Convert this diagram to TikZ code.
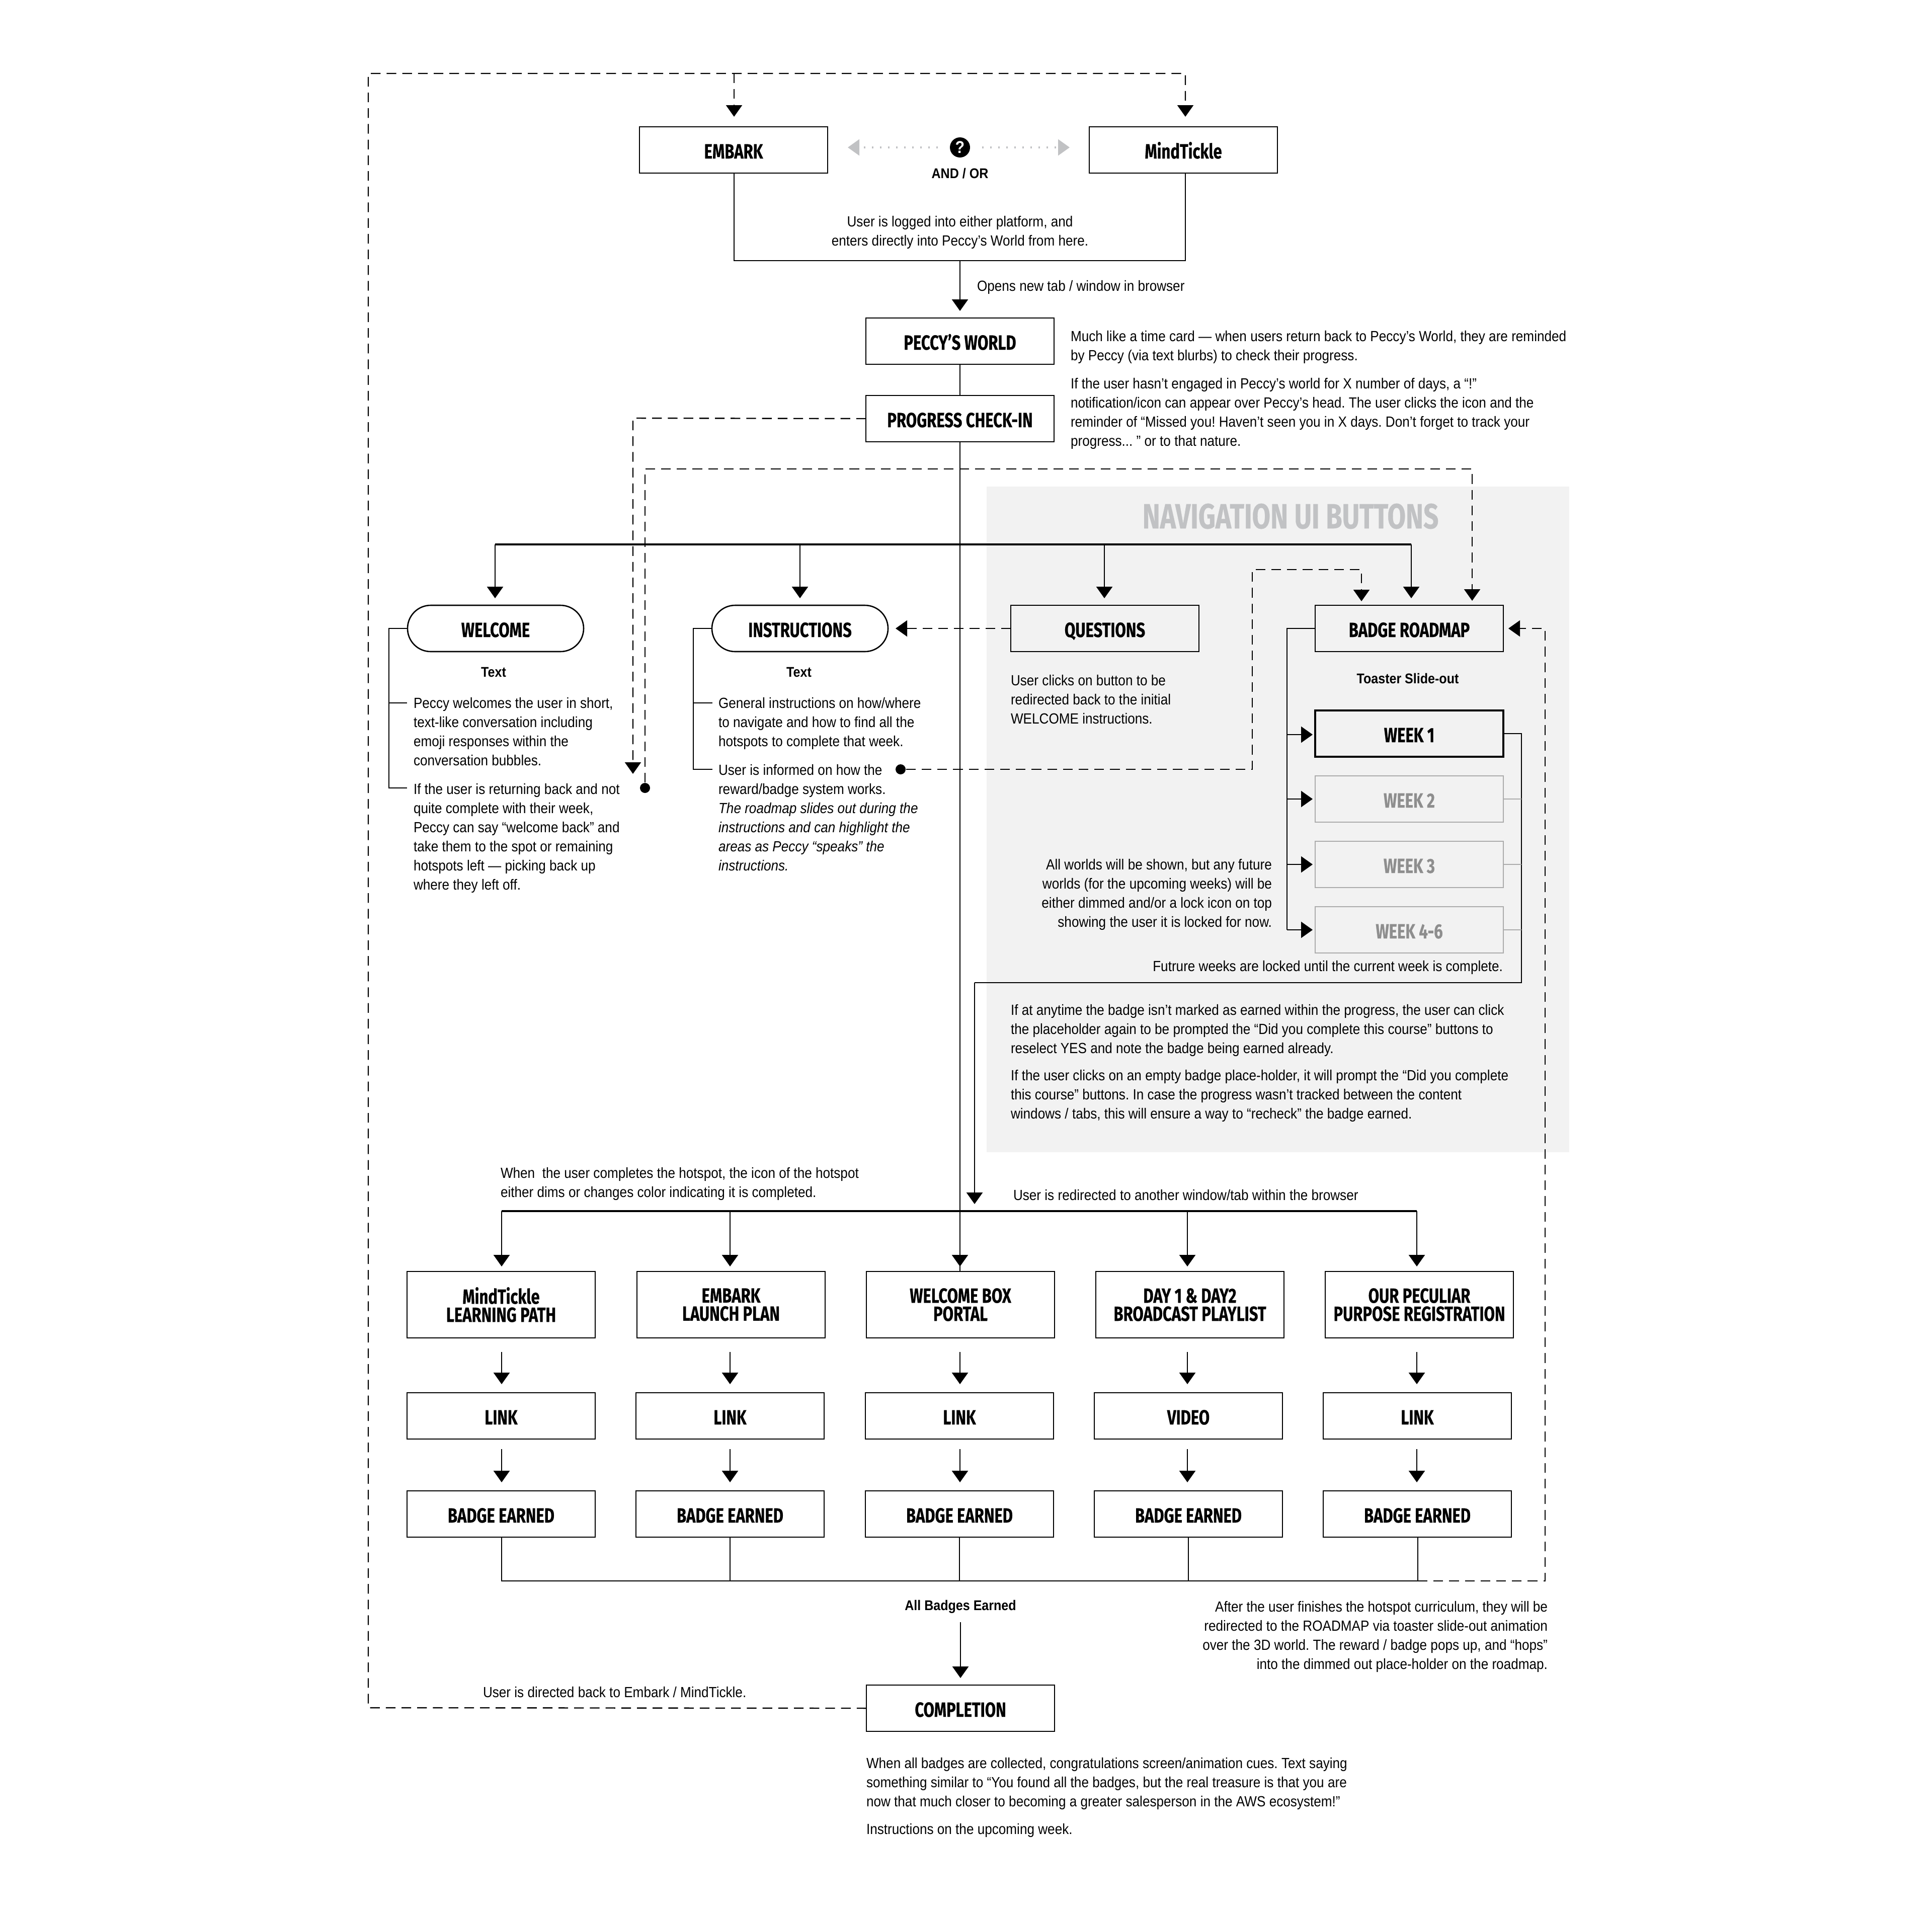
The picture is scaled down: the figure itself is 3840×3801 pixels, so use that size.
\documentclass[tikz,border=0pt]{standalone}
\usepackage{fontspec}
\usepackage{tikz}
\usepackage{xcolor}
\usetikzlibrary{arrows.meta,shapes.misc}
\newfontfamily\bodyfont[FakeStretch=0.895]{Liberation Sans}
\newfontfamily\headfont[FakeStretch=0.76,BoldFeatures={FakeBold=0.4}]{Fira Sans}
\definecolor{panelgrey}{HTML}{F2F2F2}
\definecolor{titlegrey}{HTML}{C1C2C4}
\definecolor{dimgrey}{HTML}{8E8E8E}
\definecolor{dimline}{HTML}{ABABAB}
\tikzset{
BoxNode/.style={
 draw=black,
 line width=0.65pt,
 fill=white,
 minimum width=93.5pt,
 minimum height=23pt,
 inner sep=0pt,
 outer sep=0pt,
 align=center,
 text height=8.5pt,
 text depth=0pt,
 font=\headfont\bfseries\fontsize{10.2}{9}\selectfont
 },
TallBox/.style={
 BoxNode,
 text height=,
 text depth=,
 minimum height=33pt
 },
GreyBox/.style={
 BoxNode,
 fill=none
 },
DimBox/.style={
 BoxNode,
 fill=none,
 draw=dimline,
 text=dimgrey
 },
PillNode/.style={
 BoxNode,
 rounded rectangle,
 minimum width=87.5pt
 },
BodyText/.style={
 inner sep=0pt,
 outer sep=0pt,
 align=left,
 yshift=-1pt,
 font=\bodyfont\fontsize{7.3}{9.5}\selectfont\frenchspacing
 },
BoldText/.style={
 BodyText,
 align=center,
 font=\bodyfont\bfseries\fontsize{7}{9.5}\selectfont\frenchspacing
 },
DotNode/.style={
 circle,
 fill=black,
 minimum size=5pt,
 inner sep=0pt
 },
PlainLine/.style={
 draw=black,
 line width=0.65pt
 },
ArrowLine/.style={
 PlainLine,
 -{Triangle[length=5.75pt,width=8pt]}
 },
DashLine/.style={
 draw=black,
 line width=0.6pt,
 dash pattern=on 4.8pt off 3pt
 },
DashArrow/.style={
 DashLine,
 -{Triangle[length=5.75pt,width=8pt]}
 },
DotLine/.style={
 draw=titlegrey,
 line width=0.8pt,
 dash pattern=on 0.8pt off 3.2pt,
 -{Triangle[length=5.75pt,width=8pt]}
 }
}
\begin{document}
\begin{tikzpicture}[x=0.25pt,y=-0.25pt]
\useasboundingbox (0,0) rectangle (3840,3801);
\fill[panelgrey] (1961,967) rectangle (3119,2290);
\node[font=\headfont\bfseries\fontsize{17.4}{18}\selectfont,text=titlegrey,inner sep=0pt] (navTitle) at (2565,1026) {NAVIGATION UI BUTTONS};
\node[BoxNode] (embark) at (1458,298) {EMBARK};
\node[BoxNode] (mindtickle) at (2352,298) {MindTickle};
\node[circle,fill=black,text=white,minimum size=10pt,inner sep=0pt,font=\bodyfont\bfseries\fontsize{8.5}{9}\selectfont] (andOrIcon) at (1908,293) {?};
\node[BoldText] (andOr) at (1908,341) {AND / OR};
\node[BodyText,align=center] (loggedText) at (1908,458) {User is logged into either platform, and\\enters directly into Peccy’s World from here.};
\node[BodyText,anchor=west] (opensText) at (1942,567) {Opens new tab / window in browser};
\node[BoxNode] (peccyWorld) at (1908,678) {PECCY’S WORLD};
\node[BoxNode] (progress) at (1908,832) {PROGRESS CHECK-IN};
\node[BodyText,anchor=north west] (timeText) at (2128,653) {Much like a time card — when users return back to Peccy’s World, they are reminded\\by Peccy (via text blurbs) to check their progress.};
\node[BodyText,anchor=north west] (notifyText) at (2128,747) {If the user hasn’t engaged in Peccy’s world for X number of days, a “!”\\notification/icon can appear over Peccy’s head. The user clicks the icon and the\\reminder of “Missed you! Haven’t seen you in X days. Don’t forget to track your\\progress... ” or to that nature.};
\node[PillNode] (welcome) at (985,1249) {WELCOME};
\node[PillNode] (instructions) at (1590,1249) {INSTRUCTIONS};
\node[GreyBox] (questions) at (2196,1249) {QUESTIONS};
\node[GreyBox] (roadmap) at (2801,1249) {BADGE ROADMAP};
\node[BoldText] (welcomeLabel) at (981,1332) {Text};
\node[BoldText] (instructionsLabel) at (1588,1332) {Text};
\node[BoldText] (toasterLabel) at (2798,1344) {Toaster Slide-out};
\node[BodyText,anchor=north west] (welcomeTextA) at (822,1382) {Peccy welcomes the user in short,\\text-like conversation including\\emoji responses within the\\conversation bubbles.};
\node[BodyText,anchor=north west] (welcomeTextB) at (822,1553) {If the user is returning back and not\\quite complete with their week,\\Peccy can say “welcome back” and\\take them to the spot or remaining\\hotspots left — picking back up\\where they left off.};
\node[BodyText,anchor=north west] (instructionsTextA) at (1428,1382) {General instructions on how/where\\to navigate and how to find all the\\hotspots to complete that week.};
\node[BodyText,anchor=north west] (instructionsTextB) at (1428,1515) {User is informed on how the\\reward/badge system works.\\\textit{The roadmap slides out during the}\\\textit{instructions and can highlight the}\\\textit{areas as Peccy “speaks” the}\\\textit{instructions.}};
\node[BodyText,anchor=north west] (questionsText) at (2009,1337) {User clicks on button to be\\redirected back to the initial\\WELCOME instructions.};
\node[BoxNode,fill=none,line width=0.9pt] (weekOne) at (2801,1458) {WEEK 1};
\node[DimBox] (weekTwo) at (2801,1588) {WEEK 2};
\node[DimBox] (weekThree) at (2801,1718) {WEEK 3};
\node[DimBox] (weekFour) at (2801,1848) {WEEK 4-6};
\node[BodyText,anchor=north east,align=right] (worldsText) at (2528,1703) {All worlds will be shown, but any future\\worlds (for the upcoming weeks) will be\\either dimmed and/or a lock icon on top\\showing the user it is locked for now.};
\node[BodyText,anchor=east] (futureText) at (2987,1919) {Futrure weeks are locked until the current week is complete.};
\node[BodyText,anchor=north west] (placeholderText) at (2009,1992) {If at anytime the badge isn’t marked as earned within the progress, the user can click\\the placeholder again to be prompted the “Did you complete this course” buttons to\\reselect YES and note the badge being earned already.};
\node[BodyText,anchor=north west] (emptyText) at (2009,2122) {If the user clicks on an empty badge place-holder, it will prompt the “Did you complete\\this course” buttons. In case the progress wasn’t tracked between the content\\windows / tabs, this will ensure a way to “recheck” the badge earned.};
\node[BodyText,anchor=north west] (hotspotText) at (995,2316) {When\ \ the user completes the hotspot, the icon of the hotspot\\either dims or changes color indicating it is completed.};
\node[BodyText,anchor=west] (redirectText) at (2014,2371) {User is redirected to another window/tab within the browser};
\node[TallBox] (pathA) at (996,2593) {MindTickle\\LEARNING PATH};
\node[TallBox] (pathB) at (1453,2593) {EMBARK\\LAUNCH PLAN};
\node[TallBox] (pathC) at (1909,2593) {WELCOME BOX\\PORTAL};
\node[TallBox] (pathD) at (2365,2593) {DAY 1 \& DAY2\\BROADCAST PLAYLIST};
\node[TallBox] (pathE) at (2821,2593) {OUR PECULIAR\\PURPOSE REGISTRATION};
\node[BoxNode] (linkA) at (996,2814) {LINK};
\node[BoxNode] (linkB) at (1451,2814) {LINK};
\node[BoxNode] (linkC) at (1907,2814) {LINK};
\node[BoxNode] (linkD) at (2362,2814) {VIDEO};
\node[BoxNode] (linkE) at (2817,2814) {LINK};
\node[BoxNode] (badgeA) at (996,3009) {BADGE EARNED};
\node[BoxNode] (badgeB) at (1451,3009) {BADGE EARNED};
\node[BoxNode] (badgeC) at (1907,3009) {BADGE EARNED};
\node[BoxNode] (badgeD) at (2362,3009) {BADGE EARNED};
\node[BoxNode] (badgeE) at (2817,3009) {BADGE EARNED};
\node[BoldText] (allBadges) at (1909,3189) {All Badges Earned};
\node[BodyText,anchor=north east,align=right] (finishText) at (3076,3178) {After the user finishes the hotspot curriculum, they will be\\redirected to the ROADMAP via toaster slide-out animation\\over the 3D world. The reward / badge pops up, and “hops”\\into the dimmed out place-holder on the roadmap.};
\node[BoxNode] (completion) at (1909,3395) {COMPLETION};
\node[BodyText,anchor=west] (backText) at (960,3359) {User is directed back to Embark / MindTickle.};
\node[BodyText,anchor=north west] (collectText) at (1722,3489) {When all badges are collected, congratulations screen/animation cues. Text saying\\something similar to “You found all the badges, but the real treasure is that you are\\now that much closer to becoming a greater salesperson in the AWS ecosystem!”};
\node[BodyText,anchor=north west] (upcomingText) at (1722,3620) {Instructions on the upcoming week.};
\node[DotNode] (welcomeDot) at (1282,1566) {};
\node[DotNode] (instructionsDot) at (1790,1529) {};
\coordinate (dotTipL) at (1685,293);
\coordinate (dotTipR) at (2126,293);
\coordinate (loopA) at (732,3394);
\coordinate (loopB) at (732,146);
\coordinate (loopC) at (2356,146);
\coordinate (loopD) at (1459,146);
\coordinate (platformA) at (1459,518);
\coordinate (platformB) at (2356,518);
\coordinate (platformC) at (1908,518);
\coordinate (backWelcomeA) at (1258,831);
\coordinate (backWelcomeB) at (1258,1538);
\coordinate (backRoadA) at (1282,932);
\coordinate (backRoadB) at (2926,932);
\coordinate (backRoadC) at (2926,1194);
\coordinate (infoA) at (2489,1529);
\coordinate (infoB) at (2489,1132);
\coordinate (infoC) at (2706,1132);
\coordinate (infoD) at (2706,1195);
\coordinate (navA) at (984,1082);
\coordinate (navB) at (1590,1082);
\coordinate (navC) at (2195,1082);
\coordinate (navD) at (2805,1082);
\coordinate (navE) at (1908,1082);
\coordinate (welBarA) at (773,1249);
\coordinate (welBarB) at (773,1397);
\coordinate (welBarC) at (773,1566);
\coordinate (welStubB) at (809,1397);
\coordinate (welStubC) at (809,1566);
\coordinate (insBarA) at (1378,1249);
\coordinate (insBarB) at (1378,1397);
\coordinate (insBarC) at (1378,1529);
\coordinate (insStubB) at (1416,1397);
\coordinate (insStubC) at (1416,1529);
\coordinate (weekBarA) at (2558,1249);
\coordinate (weekBarB) at (2558,1460);
\coordinate (weekBarC) at (2558,1588);
\coordinate (weekBarD) at (2558,1718);
\coordinate (weekBarE) at (2558,1848);
\coordinate (rightBarA) at (3024,1458);
\coordinate (rightBarB) at (3024,1588);
\coordinate (rightBarC) at (3024,1718);
\coordinate (rightBarD) at (3024,1848);
\coordinate (rightBarE) at (3024,1953);
\coordinate (rightBarF) at (1937,1953);
\coordinate (rightBarG) at (1937,2393);
\coordinate (colA) at (997,2407);
\coordinate (colB) at (1451,2407);
\coordinate (colC) at (1908,2407);
\coordinate (colD) at (2360,2407);
\coordinate (colE) at (2816,2407);
\coordinate (sumA) at (997,3142);
\coordinate (sumB) at (1451,3142);
\coordinate (sumC) at (1907,3142);
\coordinate (sumD) at (2362,3142);
\coordinate (sumE) at (2818,3142);
\coordinate (earnedA) at (3071,3142);
\coordinate (earnedB) at (3071,1249);
\draw[DashArrow,shorten >=5pt] (completion.west) -- (loopA) -- (loopB) -- (loopC) -- (loopC |- mindtickle.north);
\draw[DashArrow,shorten >=5pt] (loopD) -- (loopD |- embark.north);
\draw[DotLine,shorten <=5.75pt] (andOrIcon) -- (dotTipL);
\draw[DotLine,shorten <=5.75pt] (andOrIcon) -- (dotTipR);
\draw[PlainLine] (loopD |- embark.south) -- (platformA) -- (platformB) -- (loopC |- mindtickle.south);
\draw[ArrowLine,shorten >=3.5pt] (platformC) -- (peccyWorld.north);
\draw[PlainLine] (peccyWorld.south) -- (progress.north);
\draw[DashArrow] (progress.west) -- (backWelcomeA) -- (backWelcomeB);
\draw[DashArrow] (welcomeDot) -- (backRoadA) -- (backRoadB) -- (backRoadC);
\draw[DashArrow] (instructionsDot) -- (infoA) -- (infoB) -- (infoC) -- (infoD);
\draw[DashArrow,shorten >=3.75pt] (questions.west) -- (instructions.east);
\draw[PlainLine,line width=0.85pt] (navA) -- (navD);
\draw[ArrowLine,shorten >=3.5pt] (navA) -- (navA |- welcome.north);
\draw[ArrowLine,shorten >=3.5pt] (navB) -- (navB |- instructions.north);
\draw[ArrowLine,shorten >=3.5pt] (navC) -- (navC |- questions.north);
\draw[ArrowLine,shorten >=3.5pt] (navD) -- (navD |- roadmap.north);
\draw[PlainLine] (progress.south) -- (progress.south |- pathC.north);
\draw[ArrowLine,shorten >=2.5pt] (colC) -- (colC |- pathC.north);
\draw[PlainLine] (welcome.west) -- (welBarA) -- (welBarC) -- (welStubC);
\draw[PlainLine] (welBarB) -- (welStubB);
\draw[PlainLine] (instructions.west) -- (insBarA) -- (insBarC) -- (insStubC);
\draw[PlainLine] (insBarB) -- (insStubB);
\draw[PlainLine] (roadmap.west) -- (weekBarA) -- (weekBarE);
\draw[ArrowLine,shorten >=1.25pt] (weekBarB) -- (weekOne.west |- weekBarB);
\draw[ArrowLine,shorten >=1.25pt] (weekBarC) -- (weekTwo.west);
\draw[ArrowLine,shorten >=1.25pt] (weekBarD) -- (weekThree.west);
\draw[ArrowLine,shorten >=1.25pt] (weekBarE) -- (weekFour.west);
\draw[PlainLine] (weekOne.east) -- (rightBarA) -- (rightBarE) -- (rightBarF);
\draw[ArrowLine] (rightBarF) -- (rightBarG);
\draw[draw=dimline,line width=0.5pt] (weekTwo.east) -- (rightBarB);
\draw[draw=dimline,line width=0.5pt] (weekThree.east) -- (rightBarC);
\draw[draw=dimline,line width=0.5pt] (weekFour.east) -- (rightBarD);
\draw[PlainLine,line width=0.85pt] (colA) -- (colE);
\draw[ArrowLine,shorten >=2.5pt] (colA) -- (colA |- pathA.north);
\draw[ArrowLine,shorten >=2.5pt] (colB) -- (colB |- pathB.north);
\draw[ArrowLine,shorten >=2.5pt] (colD) -- (colD |- pathD.north);
\draw[ArrowLine,shorten >=2.5pt] (colE) -- (colE |- pathE.north);
\draw[ArrowLine,shorten <=7pt,shorten >=4.25pt] (colA |- pathA.south) -- (colA |- linkA.north);
\draw[ArrowLine,shorten <=7pt,shorten >=4.25pt] (colB |- pathB.south) -- (colB |- linkB.north);
\draw[ArrowLine,shorten <=7pt,shorten >=4.25pt] (colC |- pathC.south) -- (colC |- linkC.north);
\draw[ArrowLine,shorten <=7pt,shorten >=4.25pt] (colD |- pathD.south) -- (colD |- linkD.north);
\draw[ArrowLine,shorten <=7pt,shorten >=4.25pt] (colE |- pathE.south) -- (colE |- linkE.north);
\draw[ArrowLine,shorten <=5pt,shorten >=4.25pt] (colA |- linkA.south) -- (colA |- badgeA.north);
\draw[ArrowLine,shorten <=5pt,shorten >=4.25pt] (colB |- linkB.south) -- (colB |- badgeB.north);
\draw[ArrowLine,shorten <=5pt,shorten >=4.25pt] (colC |- linkC.south) -- (colC |- badgeC.north);
\draw[ArrowLine,shorten <=5pt,shorten >=4.25pt] (colD |- linkD.south) -- (colD |- badgeD.north);
\draw[ArrowLine,shorten <=5pt,shorten >=4.25pt] (colE |- linkE.south) -- (colE |- badgeE.north);
\draw[PlainLine] (sumA |- badgeA.south) -- (sumA) -- (sumE) -- (sumE |- badgeE.south);
\draw[PlainLine] (sumB |- badgeB.south) -- (sumB);
\draw[PlainLine] (sumC |- badgeC.south) -- (sumC);
\draw[PlainLine] (sumD |- badgeD.south) -- (sumD);
\draw[DashArrow,shorten >=2.5pt] (sumE) -- (earnedA) -- (earnedB) -- (roadmap.east);
\draw[ArrowLine,shorten <=4.5pt,shorten >=3.5pt] (allBadges.south) -- (completion.north);
\end{tikzpicture}
\end{document}
